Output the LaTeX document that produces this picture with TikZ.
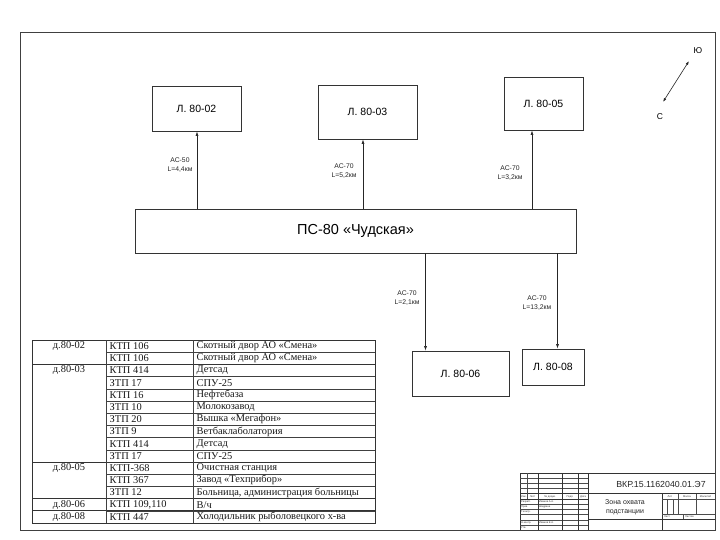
\documentclass[tikz,border=0pt]{standalone}
\usepackage{fontspec}
\setmainfont{Liberation Sans}
\newfontfamily\serifcyr{Liberation Serif}
\usetikzlibrary{arrows.meta}
\begin{document}
\begin{tikzpicture}[x=1pt,y=-1pt,
  box/.style={draw=black!80, line width=0.8pt, inner sep=0pt, font=\fontsize{10.5}{12}\selectfont},
  arr/.style={draw=black!85, line width=0.6pt, -{Latex[length=4.5pt,width=3pt]}},
  lab/.style={font=\fontsize{6.8}{9}\selectfont, align=center, inner sep=0pt, text=black!85},
  frame/.style={draw=black!75, line width=1pt},
  tline/.style={draw=black!75, line width=0.5pt},
  gline/.style={draw=black!80, line width=0.9pt},
  tc/.style={font=\serifcyr\fontsize{10.4}{12}\selectfont, inner sep=0pt, anchor=west, text=black!90},
  tg/.style={font=\serifcyr\fontsize{10.4}{12}\selectfont, inner sep=0pt, text=black!90},
  st/.style={draw=black!70, line width=0.4pt},
  stk/.style={draw=black!80, line width=0.8pt},
  sx/.style={font=\fontsize{2.6}{3}\selectfont, inner sep=0pt, text=black!80},
]
\useasboundingbox (0,0) rectangle (720,540);
\fill[white] (0,0) rectangle (720,540);
% frame
\draw[frame] (20,33) rectangle (715,530.2);

% boxes
\node[box, minimum width=89pt, minimum height=45pt] (l02) at (196.5,108.5) {Л. 80-02};
\node[box, minimum width=99pt, minimum height=54pt] (l03) at (367.5,112) {Л. 80-03};
\node[box, minimum width=79pt, minimum height=53pt] (l05) at (543.5,103.5) {Л. 80-05};
\node[box, minimum width=441pt, minimum height=44pt, font=\fontsize{14.5}{16}\selectfont] (ps) at (355.5,231) {ПС-80 «Чудская»};
\node[box, minimum width=97pt, minimum height=45pt] (l06) at (460.5,373.5) {Л. 80-06};
\node[box, minimum width=62pt, minimum height=36pt] (l08) at (553,367) {Л. 80-08};

% connector x positions
\coordinate (a2) at (197,0);
\coordinate (a3) at (363,0);
\coordinate (a5) at (532,0);
\coordinate (a6) at (425.5,0);
\coordinate (a8) at (557.5,0);
\draw[arr] (ps.north -| a2) -- (l02.south -| a2);
\draw[arr] (ps.north -| a3) -- (l03.south -| a3);
\draw[arr] (ps.north -| a5) -- (l05.south -| a5);
\draw[arr] (ps.south -| a6) -- (l06.north -| a6);
\draw[arr] (ps.south -| a8) -- (l08.north -| a8);

% labels
\node[lab] (t2) at (180,165) {АС-50\\L=4,4км};
\node[lab] (t3) at (344,171) {АС-70\\L=5,2км};
\node[lab] (t5) at (510,173) {АС-70\\L=3,2км};
\node[lab] (t6) at (407,298) {АС-70\\L=2,1км};
\node[lab] (t8) at (537,303) {АС-70\\L=13,2км};

% compass
\coordinate (cs) at (663,102);
\coordinate (cn) at (689,61);
\draw[draw=black!85, line width=0.6pt, {Latex[length=4pt,width=2.6pt]}-{Latex[length=4pt,width=2.6pt]}] (cs) -- (cn);
\node[font=\fontsize{8.5}{10}\selectfont, inner sep=0pt] (yu) at (698,51) {Ю};
\node[font=\fontsize{8.5}{10}\selectfont, inner sep=0pt] (se) at (660,117) {С};

% table
\foreach \k in {1,...,14} {
  \draw[tline] (106,{340+\k*12.2}) -- (375,{340+\k*12.2});
}
\foreach \k in {2,10,13,14} {
  \draw[gline] (32,{340+\k*12.2}) -- (375,{340+\k*12.2});
}
\draw[gline] (32,340) rectangle (375,523);
\draw[tline] (106,340) -- (106,523);
\draw[tline] (193,340) -- (193,523);

\foreach \i/\a/\b in {
 1/{КТП 106}/{Скотный двор АО «Смена»},
 2/{КТП 106}/{Скотный двор АО «Смена»},
 3/{КТП 414}/{Детсад},
 4/{ЗТП 17}/{СПУ-25},
 5/{КТП 16}/{Нефтебаза},
 6/{ЗТП 10}/{Молокозавод},
 7/{ЗТП 20}/{Вышка «Мегафон»},
 8/{ЗТП 9}/{Ветбаклаболатория},
 9/{КТП 414}/{Детсад},
 10/{ЗТП 17}/{СПУ-25},
 11/{КТП-368}/{Очистная станция},
 12/{КТП 367}/{Завод «Техприбор»},
 13/{ЗТП 12}/{Больница, администрация больницы},
 14/{КТП 109,110}/{В/ч},
 15/{КТП 447}/{Холодильник рыболовецкого х-ва}} {
  \node[tc] (b\i) at (109.5,{340+(\i-0.5)*12.2}) {\a};
  \node[tc] (c\i) at (196.5,{340+(\i-0.5)*12.2}) {\b};
}
\foreach \i/\g in {1/д.80-02, 3/д.80-03, 11/д.80-05, 14/д.80-06, 15/д.80-08} {
  \node[tg] (g\i) at (69,{340+(\i-0.5)*12.2}) {\g};
}

% title block
\draw[stk] (520,473) -- (715,473);
\draw[stk] (520,473) -- (520,530.2);
\foreach \k in {1,2,3,6,7,8,9,10} {
  \draw[st] (520,{473+\k*5.2}) -- (588.5,{473+\k*5.2});
}
\draw[stk] (520,493.8) -- (715,493.8);
\draw[stk] (520,499) -- (588.5,499);
\draw[st] (527.4,473) -- (527.4,499);
\draw[stk] (537.9,473) -- (537.9,530.2);
\draw[stk] (562.2,473) -- (562.2,530.2);
\draw[stk] (578,473) -- (578,530.2);
\draw[stk] (588.5,473) -- (588.5,530.2);
\draw[stk] (662.3,493.8) -- (662.3,530.2);
\draw[st] (662.3,499) -- (715,499);
\draw[st] (662.3,514.2) -- (715,514.2);
\draw[stk] (588.5,519.4) -- (715,519.4);
\draw[st] (677.9,493.8) -- (677.9,514.2);
\draw[st] (695.8,493.8) -- (695.8,514.2);
\draw[st] (667.6,499) -- (667.6,514.2);
\draw[st] (672.9,499) -- (672.9,514.2);
\draw[st] (683.4,514.2) -- (683.4,519.4);

\node[font=\fontsize{8.8}{10}\selectfont, inner sep=0pt, text=black!85] (des) at (661,484) {ВКР.15.1162040.01.Э7};
\node[font=\fontsize{7}{8.6}\selectfont, align=center, inner sep=0pt, text=black!85] (ttl) at (625,507) {Зона охвата\\подстанции};

\node[sx] (h1) at (523.7,496.4) {Изм.};
\node[sx] (h2) at (532.6,496.4) {Лист};
\node[sx] (h3) at (550,496.4) {№ докум.};
\node[sx] (h4) at (570,496.4) {Подп.};
\node[sx] (h5) at (583.2,496.4) {Дата};
\node[sx, anchor=west] (r1) at (521,501.6) {Разраб.};
\node[sx, anchor=west] (n1) at (539,501.6) {Иванов А.А.};
\node[sx, anchor=west] (r2) at (521,506.8) {Пров.};
\node[sx, anchor=west] (n2) at (539,506.8) {Шадрина};
\node[sx, anchor=west] (r3) at (521,512) {Т.контр.};
\node[sx, anchor=west] (r5) at (521,522.4) {Н.контр.};
\node[sx, anchor=west] (n5) at (539,522.4) {Иванов Е.А.};
\node[sx, anchor=west] (r6) at (521,527.6) {Утв.};
\node[sx] (m1) at (670,496.4) {Лит.};
\node[sx] (m2) at (687,496.4) {Масса};
\node[sx] (m3) at (705.5,496.4) {Масштаб};
\node[sx, anchor=west] (m4) at (664,516.8) {Лист};
\node[sx, anchor=west] (m5) at (685,516.8) {Листов};
\end{tikzpicture}
\end{document}
